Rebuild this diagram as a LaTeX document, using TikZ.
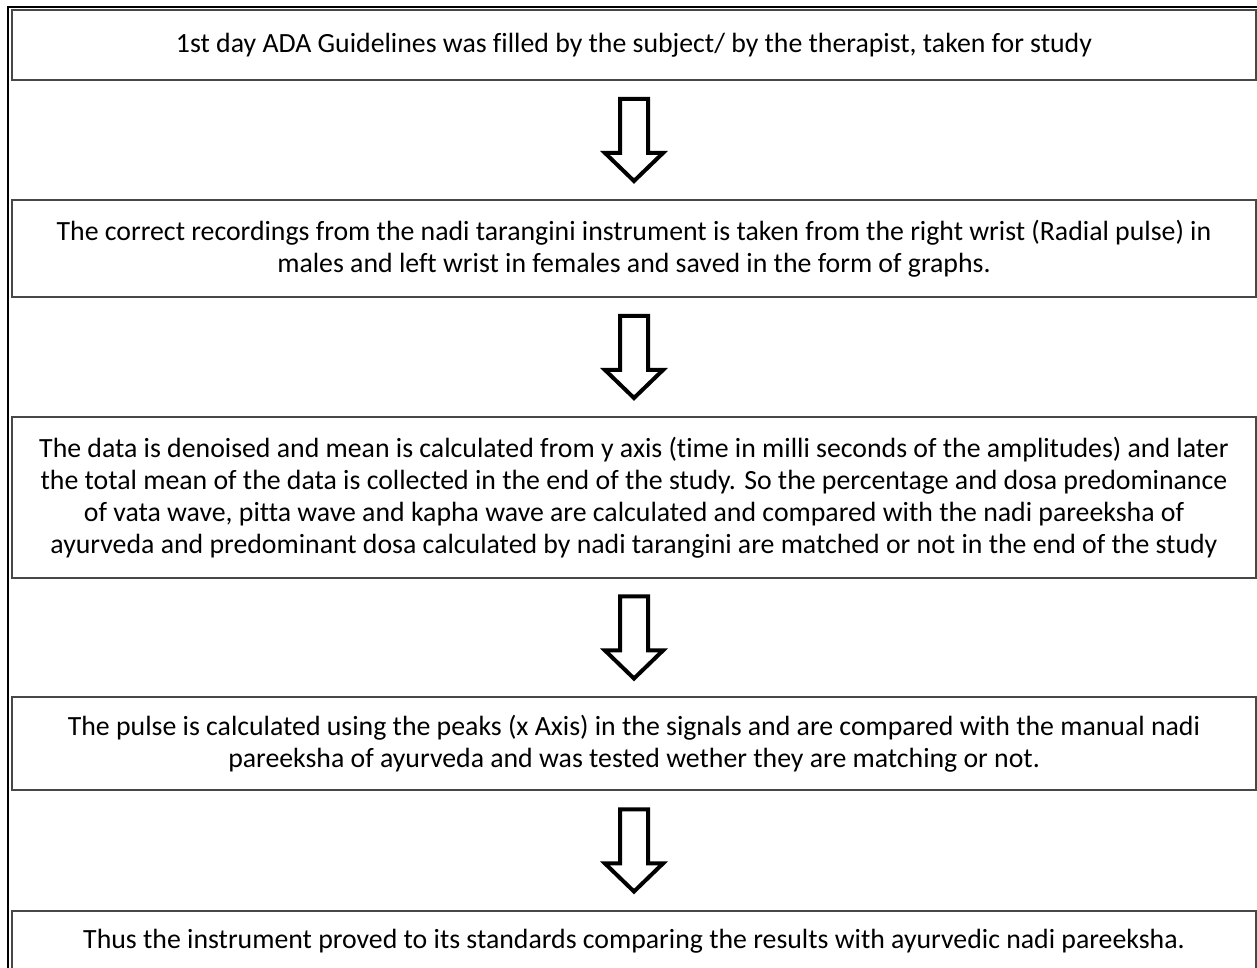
\documentclass[tikz,border=0pt]{standalone}
\usepackage{fontspec}
\setmainfont{Carlito}[Ligatures=NoCommon]
\usetikzlibrary{calc}
\tikzset{
  flowbox/.style={draw=black!72, line width=2bp, fill=white, minimum width=1244bp, align=center, inner sep=0pt,
    font=\fontsize{27.8bp}{32bp}\selectfont},
  blockarrow/.style={draw=black, line width=4bp, miter limit=10, fill=white},
}
\newcommand{\flowarrow}[2]{%
  \coordinate (m#1#2) at ($(#1.south)!0.5!(#2.north)$);
  \draw[blockarrow] ($(m#1#2)+(-14,41)$) -- ++(28,0) -- ++(0,-54) -- ++(15,0) -- ++(-29,-28) -- ++(-29,28) -- ++(15,0) -- cycle;
}
\begin{document}
\begin{tikzpicture}[x=1bp,y=1bp]
\useasboundingbox (0,0) rectangle (1257,968);
\fill[white] (0,0) rectangle (1257,968);
\draw[black, line width=2.5bp] (8,-5) -- (8,961) -- (1270,961);
\node[flowbox, minimum height=70bp] (b1) at (634,923) {1st day ADA Guidelines was filled by the subject/ by the therapist, taken for study};
\node[flowbox, minimum height=97bp] (b2) at (634,719.5) {The correct recordings from the nadi tarangini instrument is taken from the right wrist (Radial pulse) in\\males and left wrist in females and saved in the form of graphs.};
\node[flowbox, minimum height=161bp] (b3) at (634,470.5) {The data is denoised and mean is calculated from y axis (time in milli seconds of the amplitudes) and later\\the total mean of the data is collected in the end of the study. So the percentage and dosa predominance\\of vata wave, pitta wave and kapha wave are calculated and compared with the nadi pareeksha of\\ayurveda and predominant dosa calculated by nadi tarangini are matched or not in the end of the study};
\node[flowbox, minimum height=93bp] (b4) at (634,224.5) {The pulse is calculated using the peaks (x Axis) in the signals and are compared with the manual nadi\\pareeksha of ayurveda and was tested wether they are matching or not.};
\node[flowbox, minimum height=60bp] (b5) at (634,27) {Thus the instrument proved to its standards comparing the results with ayurvedic nadi pareeksha.};
\flowarrow{b1}{b2}
\flowarrow{b2}{b3}
\flowarrow{b3}{b4}
\flowarrow{b4}{b5}
\end{tikzpicture}
\end{document}
